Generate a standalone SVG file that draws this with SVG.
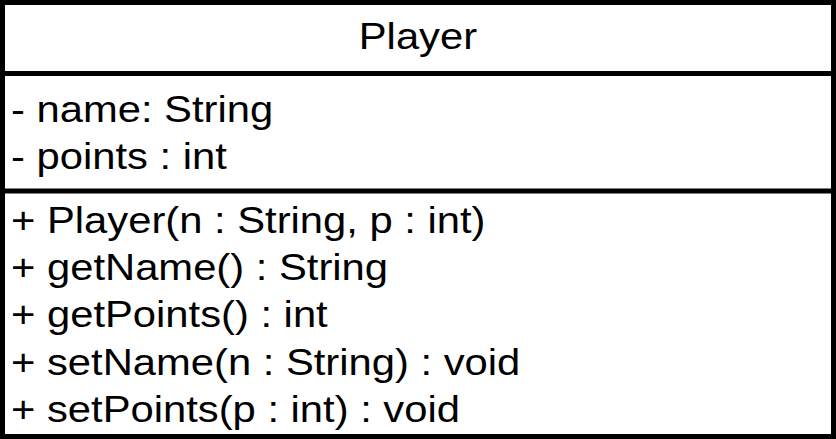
<svg xmlns="http://www.w3.org/2000/svg" width="836" height="439" viewBox="0 0 836 439">
<style>
.t{font-family:"Liberation Sans",Arial,sans-serif;font-size:36px;fill:#000}
.b{fill:none;stroke:#000;stroke-width:5}
</style>
<rect width="836" height="439" fill="#fff"/>
<g id="Player">
<rect class="b" x="2.5" y="2.5" width="831" height="434"/>
<line class="b" x1="0" y1="73.5" x2="836" y2="73.5"/>
<line class="b" x1="0" y1="191" x2="836" y2="191"/>
<g transform="scale(1.16,1)">
<text class="t" x="360.3" y="49" text-anchor="middle">Player</text>
<text class="t" x="9.5" y="122">- name: String</text>
<text class="t" x="9.5" y="169">- points : int</text>
<text class="t" x="9.5" y="233">+ Player(n : String, p : int)</text>
<text class="t" x="9.5" y="280">+ getName() : String</text>
<text class="t" x="9.5" y="327">+ getPoints() : int</text>
<text class="t" x="9.5" y="375">+ setName(n : String) : void</text>
<text class="t" x="9.5" y="422">+ setPoints(p : int) : void</text>
</g>
</g>
</svg>
